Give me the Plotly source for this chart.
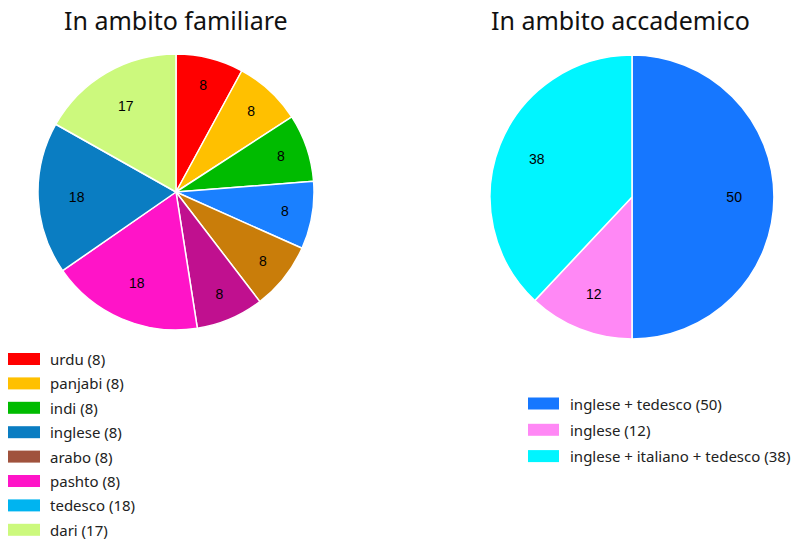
import plotly.graph_objects as go

# Left pie (family context)
fam_values = [8, 8, 8, 8, 8, 8, 18, 18, 17]
fam_colors = ["#ff0000", "#ffc000", "#00bb00", "#1a80ff", "#c97d0a",
              "#c0108f", "#ff14c8", "#0a7dc2", "#ccf97d"]
fam_legend_labels = ["urdu (8)", "panjabi (8)", "indi (8)", "inglese (8)",
                     "arabo (8)", "pashto (8)", "tedesco (18)", "dari (17)"]
fam_legend_colors = ["#ff0000", "#ffc000", "#00bb00", "#0a7dc2",
                     "#a0523d", "#ff14c8", "#00b4f0", "#ccf97d"]

# Right pie (academic context)
acc_values = [50, 12, 38]
acc_colors = ["#1677ff", "#ff88f5", "#00f5ff"]
acc_legend_labels = ["inglese + tedesco (50)", "inglese (12)",
                     "inglese + italiano + tedesco (38)"]

titles = ["In ambito familiare", "In ambito accademico"]

W, H = 791, 540
def px(x):
    return x / W
def py(y):
    return 1 - y / H

fam_domain = dict(x=[px(176 - 138), px(176 + 138)], y=[py(330), py(54)])
acc_domain = dict(x=[px(632 - 142), px(632 + 142)], y=[py(339), py(55)])

fig = go.Figure()
for vals, cols, dom in [(fam_values, fam_colors, fam_domain),
                        (acc_values, acc_colors, acc_domain)]:
    # filled pie
    fig.add_trace(go.Pie(
        values=vals, textinfo="none",
        marker=dict(colors=cols, line=dict(color="white", width=1.5)),
        sort=False, direction="clockwise", rotation=0,
        domain=dom, showlegend=False, hoverinfo="value"))
    # transparent ring carrying the value labels nearer the rim
    fig.add_trace(go.Pie(
        values=vals, text=[str(v) for v in vals], textinfo="text",
        hole=0.44,
        marker=dict(colors=["rgba(0,0,0,0)"] * len(vals), line=dict(width=0)),
        sort=False, direction="clockwise", rotation=0,
        textposition="inside", insidetextorientation="horizontal",
        textfont=dict(color="black", size=14, family="Liberation Sans"),
        domain=dom, showlegend=False, hoverinfo="skip"))

shapes = []
annotations = []
# titles
annotations.append(dict(x=px(176), y=py(20), xref="paper", yref="paper",
                        text=titles[0], showarrow=False, xanchor="center", yanchor="middle",
                        font=dict(size=25, family="Noto Sans", color="#111")))
annotations.append(dict(x=px(620), y=py(20), xref="paper", yref="paper",
                        text=titles[1], showarrow=False, xanchor="center", yanchor="middle",
                        font=dict(size=25, family="Noto Sans", color="#111")))

# left legend
for i, (lab, col) in enumerate(zip(fam_legend_labels, fam_legend_colors)):
    yc = 359 + i * 24.4
    shapes.append(dict(type="rect", xref="paper", yref="paper",
                       x0=px(8), x1=px(40), y0=py(yc + 6), y1=py(yc - 6),
                       fillcolor=col, line=dict(width=0)))
    annotations.append(dict(x=px(48), y=py(yc), xref="paper", yref="paper",
                            text=lab, showarrow=False, xanchor="left", yanchor="middle",
                            font=dict(size=15, family="Noto Sans", color="#222")))

# right legend
for i, (lab, col) in enumerate(zip(acc_legend_labels, acc_colors)):
    yc = 403.5 + i * 26.3
    shapes.append(dict(type="rect", xref="paper", yref="paper",
                       x0=px(528), x1=px(559), y0=py(yc + 6), y1=py(yc - 6),
                       fillcolor=col, line=dict(width=0)))
    annotations.append(dict(x=px(568), y=py(yc), xref="paper", yref="paper",
                            text=lab, showarrow=False, xanchor="left", yanchor="middle",
                            font=dict(size=15, family="Noto Sans", color="#222")))

fig.update_layout(width=W, height=H, margin=dict(l=0, r=0, t=0, b=0),
                  paper_bgcolor="white", plot_bgcolor="white",
                  shapes=shapes, annotations=annotations)

fig.write_html("out.html", config={"displayModeBar": False},
               post_script="document.body.style.margin='0';document.body.style.overflow='hidden';")
